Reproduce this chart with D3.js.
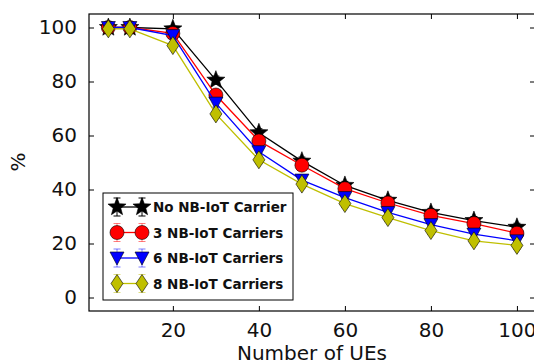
<!DOCTYPE html>
<html>
<head>
<meta charset="utf-8">
<script src="https://cdn.jsdelivr.net/npm/d3@7"></script>
<style>
  body { margin: 0; background: #fff; }
  text { font-family: "DejaVu Sans", sans-serif; }
</style>
</head>
<body>
<script>
// data
var ues = [5, 10, 20, 30, 40, 50, 60, 70, 80, 90, 100];
var noCarrier = [100, 100, 99.5, 80.5, 61, 50.5, 41.5, 36, 31.5, 28.5, 26];
var carriers3 = [100, 100, 97.8, 75, 58, 49, 40.3, 35, 30.4, 27.4, 23.8];
var carriers6 = [100, 100, 97, 72, 54, 43.5, 37, 31.5, 27, 23.5, 21];
var carriers8 = [99.5, 99.5, 93.3, 68, 51, 42, 34.8, 29.6, 24.8, 21, 19.3];
var errs = [0.5, 0.5, 1, 1.5, 1.5, 1.5, 1.5, 1.5, 1.5, 1.5, 1.5];
var seriesNames = ["No NB-IoT Carrier", "3 NB-IoT Carriers", "6 NB-IoT Carriers", "8 NB-IoT Carriers"];
var seriesColors = ["#000000", "#ff0000", "#0000ff", "#bfbf00"];
var seriesMarkers = ["star", "circle", "tridown", "diamond"];
var xTicks = [20, 40, 60, 80, 100];
var yTicks = [0, 20, 40, 60, 80, 100];

var W = 534, H = 363;
var pLeft = 89, pTop = 14, pRight = 535, pBottom = 311;

var svg = d3.select("body").append("svg")
  .attr("width", W).attr("height", H);

var x = d3.scaleLinear().domain([0.5, 104.2]).range([pLeft, pRight]);
var y = d3.scaleLinear().domain([-5, 105]).range([pBottom, pTop]);

// marker shapes
function markerPath(type) {
  if (type == "star") {
    var pts = [];
    for (var i = 0; i < 10; i++) {
      var r = i % 2 == 0 ? 9.5 : 4;
      var a = -Math.PI / 2 + i * Math.PI / 5;
      pts.push([r * Math.cos(a), r * Math.sin(a)]);
    }
    return "M" + pts.join("L") + "Z";
  }
  if (type == "circle") {
    return "M7,0A7,7 0 1,1 -7,0A7,7 0 1,1 7,0Z";
  }
  if (type == "tridown") {
    return "M-7,-6L7,-6L0,7Z";
  }
  return "M0,-9L6,0L0,9L-6,0Z";
}

var plot = svg.append("g");

var all = [noCarrier, carriers3, carriers6, carriers8];

all.forEach(function(vals, s) {
  var data = ues.map(function(u, i) { return {x: u, y: vals[i], e: errs[i]}; });
  var g = plot.append("g");
  var line = d3.line().x(function(d) { return x(d.x); }).y(function(d) { return y(d.y); });
  g.append("path").datum(data)
    .attr("d", line)
    .attr("fill", "none")
    .attr("stroke", seriesColors[s])
    .attr("stroke-width", 1.3);
  // error bars
  var eb = g.selectAll(".eb").data(data).enter().append("g")
    .attr("stroke", seriesColors[s]).attr("stroke-width", 1);
  eb.append("line")
    .attr("x1", function(d) { return x(d.x); }).attr("x2", function(d) { return x(d.x); })
    .attr("y1", function(d) { return y(d.y - d.e); }).attr("y2", function(d) { return y(d.y + d.e); });
  eb.append("line")
    .attr("x1", function(d) { return x(d.x) - 3.5; }).attr("x2", function(d) { return x(d.x) + 3.5; })
    .attr("y1", function(d) { return y(d.y + d.e); }).attr("y2", function(d) { return y(d.y + d.e); });
  eb.append("line")
    .attr("x1", function(d) { return x(d.x) - 3.5; }).attr("x2", function(d) { return x(d.x) + 3.5; })
    .attr("y1", function(d) { return y(d.y - d.e); }).attr("y2", function(d) { return y(d.y - d.e); });
  g.selectAll(".mk").data(data).enter().append("path")
    .attr("d", markerPath(seriesMarkers[s]))
    .attr("transform", function(d) { return "translate(" + x(d.x) + "," + y(d.y) + ")"; })
    .attr("fill", seriesColors[s])
    .attr("stroke", "#000")
    .attr("stroke-width", 0.6);
});

// frame and ticks (inside, all four sides)
svg.append("rect")
  .attr("x", pLeft).attr("y", pTop)
  .attr("width", pRight - pLeft).attr("height", pBottom - pTop)
  .attr("fill", "none").attr("stroke", "#000").attr("stroke-width", 1.2);

var xb = svg.append("g").attr("transform", "translate(0," + pBottom + ")")
  .call(d3.axisBottom(x).tickValues(xTicks).tickSizeInner(-5).tickSizeOuter(0).tickPadding(12));
var xt = svg.append("g").attr("transform", "translate(0," + pTop + ")")
  .call(d3.axisTop(x).tickValues(xTicks).tickSizeInner(-5).tickSizeOuter(0).tickFormat(""));
var yl = svg.append("g").attr("transform", "translate(" + pLeft + ",0)")
  .call(d3.axisLeft(y).tickValues(yTicks).tickSizeInner(-5).tickSizeOuter(0).tickPadding(12));
var yr = svg.append("g").attr("transform", "translate(" + pRight + ",0)")
  .call(d3.axisRight(y).tickValues(yTicks).tickSizeInner(-5).tickSizeOuter(0).tickFormat(""));

[xb, xt, yl, yr].forEach(function(a) {
  a.select(".domain").remove();
  a.selectAll("line").attr("stroke", "#000");
  a.selectAll("text").style("font-size", "20px").attr("fill", "#111")
    .style("font-family", "DejaVu Sans, sans-serif");
});

svg.append("text")
  .attr("x", 312)
  .attr("y", 360)
  .attr("text-anchor", "middle")
  .style("font-size", "20px")
  .attr("fill", "#111")
  .text("Number of UEs");

svg.append("text")
  .attr("transform", "translate(25,162) rotate(-90)")
  .attr("text-anchor", "middle")
  .style("font-size", "20px")
  .attr("fill", "#111")
  .text("%");

// legend
var lg = svg.append("g");
lg.append("rect")
  .attr("x", 103).attr("y", 193)
  .attr("width", 190).attr("height", 107)
  .attr("fill", "#fff").attr("stroke", "#000").attr("stroke-width", 1);

seriesNames.forEach(function(name, s) {
  var ly = 207 + s * 25.5;
  var row = lg.append("g");
  row.append("line")
    .attr("x1", 117).attr("x2", 142).attr("y1", ly).attr("y2", ly)
    .attr("stroke", seriesColors[s]).attr("stroke-width", 1.3);
  [117, 142].forEach(function(mx) {
    row.append("line").attr("x1", mx).attr("x2", mx).attr("y1", ly - 9).attr("y2", ly + 9)
      .attr("stroke", seriesColors[s]).attr("stroke-width", 1).attr("opacity", s == 0 ? 1 : 0.5);
    [-9, 9].forEach(function(o) {
      row.append("line").attr("x1", mx - 3.5).attr("x2", mx + 3.5).attr("y1", ly + o).attr("y2", ly + o)
        .attr("stroke", seriesColors[s]).attr("stroke-width", 1).attr("opacity", s == 0 ? 1 : 0.5);
    });
    row.append("path")
      .attr("d", markerPath(seriesMarkers[s]))
      .attr("transform", "translate(" + mx + "," + ly + ")")
      .attr("fill", seriesColors[s]).attr("stroke", "#000").attr("stroke-width", 0.6);
  });
  row.append("text")
    .attr("x", 153).attr("y", ly + 5)
    .style("font-size", "13.5px").style("font-weight", "bold")
    .attr("fill", "#111")
    .text(name);
});
</script>
</body>
</html>
